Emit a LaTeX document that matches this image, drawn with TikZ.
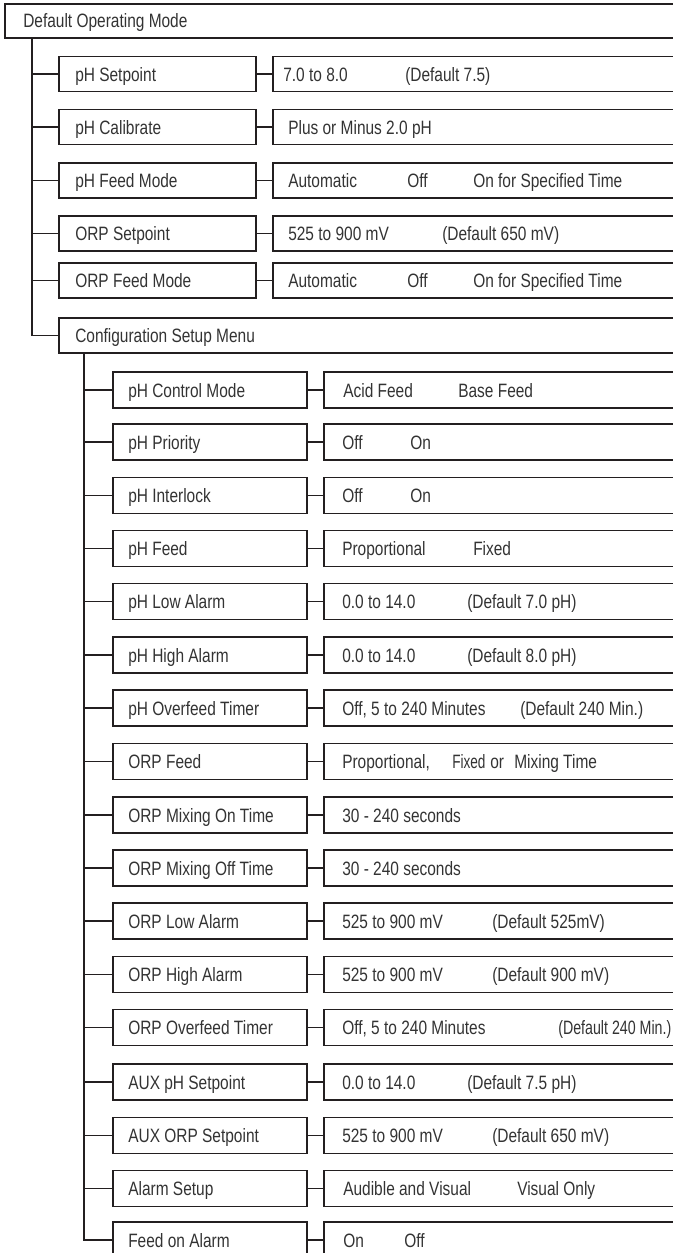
\documentclass[tikz,border=0pt]{standalone}
\usepackage{fontspec}
\newfontfamily\condfont{Liberation Sans}[FakeStretch=0.8]
\usetikzlibrary{calc}
\definecolor{linegray}{HTML}{231F20}
\definecolor{txtgray}{HTML}{333333}

\begin{document}
\begin{tikzpicture}[x=0.75pt, y=-0.75pt,
  every node/.style={font=\condfont\fontsize{14.5}{17}\selectfont, text=txtgray},
  menubox/.style={rectangle, draw=linegray, line width=1.4pt, inner sep=0pt, anchor=west},
  namebox/.style={menubox, minimum width=147.75pt, minimum height=26.25pt},
  valbox/.style={menubox, minimum width=313.5pt, minimum height=26.25pt},
  subbox/.style={menubox, minimum width=145.5pt, minimum height=27pt},
  subval/.style={menubox, minimum width=275.25pt, minimum height=27pt},
  lbl/.style={anchor=base west, inner sep=0pt},
  link/.style={draw=linegray, line width=1.4pt},
]
\useasboundingbox (0,0) rectangle (673,1253);
\clip (0,0) rectangle (673,1253);

% top level
\node[menubox, minimum width=514.5pt, minimum height=25.5pt] (dom) at (4,21) {};
\node[lbl] (dom-t) at (23,27.5) {Default Operating Mode};
\coordinate (tr1) at (32,21);

% default operating mode entries
\node[namebox] (ps) at (58,74) {};
\node[valbox] (psv) at (272,74) {};
\node[lbl] (ps-t) at (75,81) {pH Setpoint};
\node[lbl] (psv1) at (283,81) {7.0 to 8.0};
\node[lbl] (psv2) at (405,81) {(Default 7.5)};

\node[namebox] (pc) at (58,127) {};
\node[valbox] (pcv) at (272,127) {};
\node[lbl] (pc-t) at (75,134) {pH Calibrate};
\node[lbl] (pcv1) at (288,134) {Plus or Minus 2.0 pH};

\node[namebox] (pfm) at (58,180.5) {};
\node[valbox] (pfmv) at (272,180.5) {};
\node[lbl] (pfm-t) at (75,187.5) {pH Feed Mode};
\node[lbl] (pfmv1) at (288,187.5) {Automatic};
\node[lbl] (pfmv2) at (407,187.5) {Off};
\node[lbl] (pfmv3) at (473,187.5) {On for Specified Time};

\node[namebox] (os) at (58,233.5) {};
\node[valbox] (osv) at (272,233.5) {};
\node[lbl] (os-t) at (75,240.5) {ORP Setpoint};
\node[lbl] (osv1) at (288,240.5) {525 to 900 mV};
\node[lbl] (osv2) at (442,240.5) {(Default 650 mV)};

\node[namebox] (ofm) at (58,280.5) {};
\node[valbox] (ofmv) at (272,280.5) {};
\node[lbl] (ofm-t) at (75,287.5) {ORP Feed Mode};
\node[lbl] (ofmv1) at (288,287.5) {Automatic};
\node[lbl] (ofmv2) at (407,287.5) {Off};
\node[lbl] (ofmv3) at (473,287.5) {On for Specified Time};

\node[menubox, minimum width=474pt, minimum height=26.25pt] (cfg) at (58,335.5) {};
\node[lbl] (cfg-t) at (75,342.5) {Configuration Setup Menu};
\coordinate (tr2) at (84,335.5);

\draw[link] (dom.south -| tr1) |- (cfg.west);
\foreach \n in {ps, pc, pfm, os, ofm}
  \draw[link] (\n.west -| tr1) -- (\n.west) (\n.east) -- (\n v.west);

% configuration setup menu entries
\node[subbox] (pcm) at (112,390) {};
\node[subval] (pcmv) at (323,390) {};
\node[lbl] (pcm-t) at (128,397) {pH Control Mode};
\node[lbl] (pcmv1) at (343,397) {Acid Feed};
\node[lbl] (pcmv2) at (458,397) {Base Feed};

\node[subbox] (pp) at (112,442) {};
\node[subval] (ppv) at (323,442) {};
\node[lbl] (pp-t) at (128,449) {pH Priority};
\node[lbl] (ppv1) at (342,449) {Off};
\node[lbl] (ppv2) at (410,449) {On};

\node[subbox] (pi) at (112,495.5) {};
\node[subval] (piv) at (323,495.5) {};
\node[lbl] (pi-t) at (128,502.5) {pH Interlock};
\node[lbl] (piv1) at (342,502.5) {Off};
\node[lbl] (piv2) at (410,502.5) {On};

\node[subbox] (pfd) at (112,548.5) {};
\node[subval] (pfdv) at (323,548.5) {};
\node[lbl] (pfd-t) at (128,555.5) {pH Feed};
\node[lbl] (pfdv1) at (342,555.5) {Proportional};
\node[lbl] (pfdv2) at (473,555.5) {Fixed};

\node[subbox] (pla) at (112,601.5) {};
\node[subval] (plav) at (323,601.5) {};
\node[lbl] (pla-t) at (128,608.5) {pH Low Alarm};
\node[lbl] (plav1) at (342,608.5) {0.0 to 14.0};
\node[lbl] (plav2) at (467,608.5) {(Default 7.0 pH)};

\node[subbox] (pha) at (112,655) {};
\node[subval] (phav) at (323,655) {};
\node[lbl] (pha-t) at (128,662) {pH High Alarm};
\node[lbl] (phav1) at (342,662) {0.0 to 14.0};
\node[lbl] (phav2) at (467,662) {(Default 8.0 pH)};

\node[subbox] (pot) at (112,708) {};
\node[subval] (potv) at (323,708) {};
\node[lbl] (pot-t) at (128,715) {pH Overfeed Timer};
\node[lbl] (potv1) at (342,715) {Off, 5 to 240 Minutes};
\node[lbl] (potv2) at (520,715) {(Default 240 Min.)};

\node[subbox] (ofd) at (112,761.5) {};
\node[subval] (ofdv) at (323,761.5) {};
\node[lbl] (ofd-t) at (128,768.5) {ORP Feed};
\node[lbl] (ofdv1) at (342,768.5) {Proportional,};
\node[lbl] (ofdv2) at (452,768.5) {\scalebox{0.88}[1]{Fixed}};
\node[lbl] (ofdv3) at (490,768.5) {or};
\node[lbl] (ofdv4) at (514,768.5) {Mixing Time};

\node[subbox] (omon) at (112,815) {};
\node[subval] (omonv) at (323,815) {};
\node[lbl] (omon-t) at (128,822) {ORP Mixing On Time};
\node[lbl] (omonv1) at (342,822) {30 - 240 seconds};

\node[subbox] (omoff) at (112,868) {};
\node[subval] (omoffv) at (323,868) {};
\node[lbl] (omoff-t) at (128,875) {ORP Mixing Off Time};
\node[lbl] (omoffv1) at (342,875) {30 - 240 seconds};

\node[subbox] (ola) at (112,921) {};
\node[subval] (olav) at (323,921) {};
\node[lbl] (ola-t) at (128,928) {ORP Low Alarm};
\node[lbl] (olav1) at (342,928) {525 to 900 mV};
\node[lbl] (olav2) at (492,928) {(Default 525mV)};

\node[subbox] (oha) at (112,974.5) {};
\node[subval] (ohav) at (323,974.5) {};
\node[lbl] (oha-t) at (128,981.5) {ORP High Alarm};
\node[lbl] (ohav1) at (342,981.5) {525 to 900 mV};
\node[lbl] (ohav2) at (492,981.5) {(Default 900 mV)};

\node[subbox] (oot) at (112,1027.5) {};
\node[subval] (ootv) at (323,1027.5) {};
\node[lbl] (oot-t) at (128,1034.5) {ORP Overfeed Timer};
\node[lbl] (ootv1) at (342,1034.5) {Off, 5 to 240 Minutes};
\node[lbl] (ootv2) at (558,1034.5) {\scalebox{0.92}[1]{(Default 240 Min.)}};

\node[subbox] (aps) at (112,1082) {};
\node[subval] (apsv) at (323,1082) {};
\node[lbl] (aps-t) at (128,1089) {AUX pH Setpoint};
\node[lbl] (apsv1) at (342,1089) {0.0 to 14.0};
\node[lbl] (apsv2) at (467,1089) {(Default 7.5 pH)};

\node[subbox] (aos) at (112,1135.5) {};
\node[subval] (aosv) at (323,1135.5) {};
\node[lbl] (aos-t) at (128,1142.5) {AUX ORP Setpoint};
\node[lbl] (aosv1) at (342,1142.5) {525 to 900 mV};
\node[lbl] (aosv2) at (492,1142.5) {(Default 650 mV)};

\node[subbox] (als) at (112,1188.5) {};
\node[subval] (alsv) at (323,1188.5) {};
\node[lbl] (als-t) at (128,1195.5) {Alarm Setup};
\node[lbl] (alsv1) at (343,1195.5) {Audible and Visual};
\node[lbl] (alsv2) at (517,1195.5) {Visual Only};

\node[subbox] (foa) at (112,1240) {};
\node[subval] (foav) at (323,1240) {};
\node[lbl] (foa-t) at (128,1247) {Feed on Alarm};
\node[lbl] (foav1) at (343,1247) {On};
\node[lbl] (foav2) at (404,1247) {Off};

\draw[link] (cfg.south -| tr2) |- (foa.west);
\foreach \n in {pcm, pp, pi, pfd, pla, pha, pot, ofd, omon, omoff, ola, oha, oot, aps, aos, als, foa}
  \draw[link] (\n.west -| tr2) -- (\n.west) (\n.east) -- (\n v.west);
\end{tikzpicture}
\end{document}
